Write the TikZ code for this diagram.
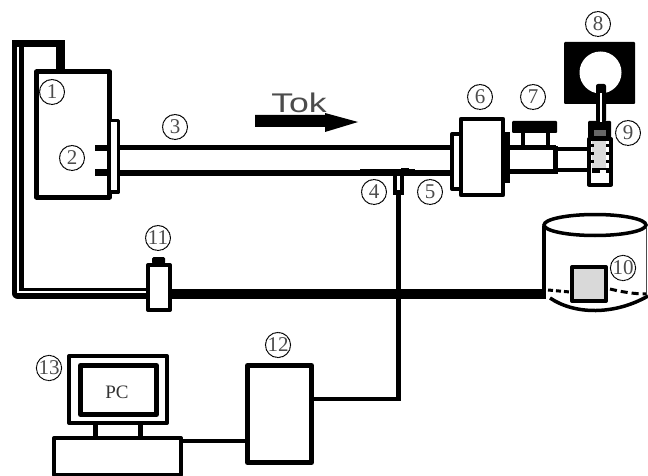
\documentclass[tikz,border=0pt]{standalone}
\usepackage{fontspec}
\setmainfont{Liberation Serif}
\setsansfont{Liberation Sans}
\tikzset{
  numlabel/.style={circle,draw,dash pattern=on 2pt off .4pt,line width=1pt,inner sep=0pt,minimum size=25pt,font=\fontsize{21}{21}\selectfont,text=black!70},
  heavy/.style={line width=5pt,line join=round},
  wire/.style={line width=4pt,line join=round},
  pipe/.style={line width=5pt}
}
\begin{document}
\begin{tikzpicture}[x=1pt,y=-1pt]
\useasboundingbox (0,0) rectangle (648,476);
% hose from source to pump
\draw[line width=11.5pt,line join=round] (18,46) -- (18,293.5) -- (150,293.5);
\fill (12,40) rectangle (65,47);
\fill (56,40) rectangle (65,72);
\draw[line width=1.4pt,white] (18,47) -- (18,292) -- (148,292);
% source box and flange
\draw[heavy] (36.5,72) rectangle (109.5,197);
\draw[line width=3.5pt,line join=round,fill=white] (111,120.5) -- (118.5,120.5) -- (118.5,192) -- (111,192);
\draw[line width=5.5pt] (95,148) -- (111,148);
\draw[line width=6pt] (95,172.5) -- (111,172.5);
% tube
\draw[pipe] (120,148) -- (451,148);
\draw[line width=5.5pt] (120,173) -- (451,173);
\fill (360,169) rectangle (415,173);
\fill (401,168) rectangle (409,172);
% tee and wire to 12
\draw[line width=4.5pt] (398.5,175) -- (398.5,399) -- (313,399);
\fill (393,175) rectangle (404,195);
\fill[white] (397,176) rectangle (400,190);
% part 6
\draw[line width=4pt,line join=round,fill=white] (459,189) -- (452,189) -- (452,134) -- (459,134);
\fill (504,132) rectangle (510,183);
\draw[line width=4.5pt,line join=round,fill=white] (461,119) rectangle (503,195);
% part 7
\draw[pipe] (510,148) -- (556,148);
\draw[pipe] (510,172) -- (556,172);
\draw[line width=4.5pt] (555.5,146) -- (555.5,174);
\draw[wire] (522.5,148) -- (522.5,132);
\draw[wire] (548,148) -- (548,132);
\fill[rounded corners=1pt] (512,121) rectangle (557,133);
% narrow tube to 9
\draw[line width=4pt] (558,149) -- (587,149);
\draw[line width=4pt] (558,170.5) -- (587,170.5);
% part 9
\draw[line width=4pt,line join=round,fill=white] (589,139) rectangle (611,184.5);
\fill[rounded corners=1pt] (588,121) rectangle (611,138);
\fill[black!60] (594,130) rectangle (606,136);
\fill[black!15] (592,141) rectangle (606,168);
\fill (592,168) rectangle (609,173);
\fill[white] (600,170) rectangle (606,173);
\foreach \yy in {144,152,160}{
  \fill (606,\yy) rectangle (609,\yy+3);
  \fill (591,\yy) rectangle (594,\yy+3);
}
% part 8
\fill[rounded corners=1pt] (564,42) rectangle (635,104);
\fill[white] (600.5,72.5) circle [radius=21pt];
\fill[rounded corners=2pt] (596,84) rectangle (606,122);
\fill[white] (600,93) rectangle (602,122);
% vessel 10
\draw[line width=3.5pt] (544,226) -- (544,297);
\draw[line width=1pt,black!70] (646,228) -- (646,296);
\draw[line width=3.5pt] (595,225) ellipse [x radius=51pt,y radius=10.5pt];
\draw[line width=3.5pt] (550,298) .. controls (575,315) and (615,315) .. (648,296);
\draw[line width=3pt,dash pattern=on 5pt off 3pt] (548,290) -- (570,292);
\draw[line width=3pt,dash pattern=on 7pt off 4pt] (610,289) .. controls (622,292) and (635,294) .. (646,294);
\draw[line width=4pt,fill=black!15,line join=round] (572,267) rectangle (606,301);
% thick hose
\draw[line width=10pt] (170,293.5) -- (546,293.5);
% part 11
\draw[line width=4pt,line join=round,fill=white] (148,265) rectangle (170,310);
\fill[rounded corners=1.5pt] (152,257) rectangle (165,264);
% part 12
\draw[heavy,fill=white] (247.5,365.5) rectangle (311.5,462.5);
% computer
\draw[wire] (69,356) rectangle (167,423);
\draw[heavy] (80.5,365.5) rectangle (156.5,414.5);
\draw[line width=4.5pt] (95.5,424) -- (95.5,437);
\draw[line width=4.5pt] (140.5,424) -- (140.5,437);
\draw[wire] (54,438) rectangle (181,474.5);
\draw[wire] (182,441) -- (246,441);
\node[font=\fontsize{19}{19}\selectfont,text=black!80] (pc) at (117,392) {PC};
% flow arrow
\node[font=\sffamily\fontsize{27}{27}\selectfont,text=black!70,inner sep=0pt] (tok) at (299,103) {\scalebox{1.32}[1]{Tok}};
\fill (255,115) -- (325,115) -- (325,113) -- (358,122) -- (325,132) -- (325,127) -- (255,127) -- cycle;
% labels
\node[numlabel] (n1) at (52,92) {1};
\node[numlabel] (n2) at (72,158) {2};
\node[numlabel] (n3) at (175,127) {3};
\node[numlabel] (n4) at (374,192) {4};
\node[numlabel] (n5) at (430,192) {5};
\node[numlabel] (n6) at (480,97) {6};
\node[numlabel] (n7) at (533,97) {7};
\node[numlabel] (n8) at (598,24) {8};
\node[numlabel] (n9) at (628,133) {9};
\node[numlabel,fill=white] (n10) at (623,268) {10};
\node[numlabel] (n11) at (158,238) {11};
\node[numlabel] (n12) at (278,345) {12};
\node[numlabel] (n13) at (49,368) {13};
\end{tikzpicture}
\end{document}
